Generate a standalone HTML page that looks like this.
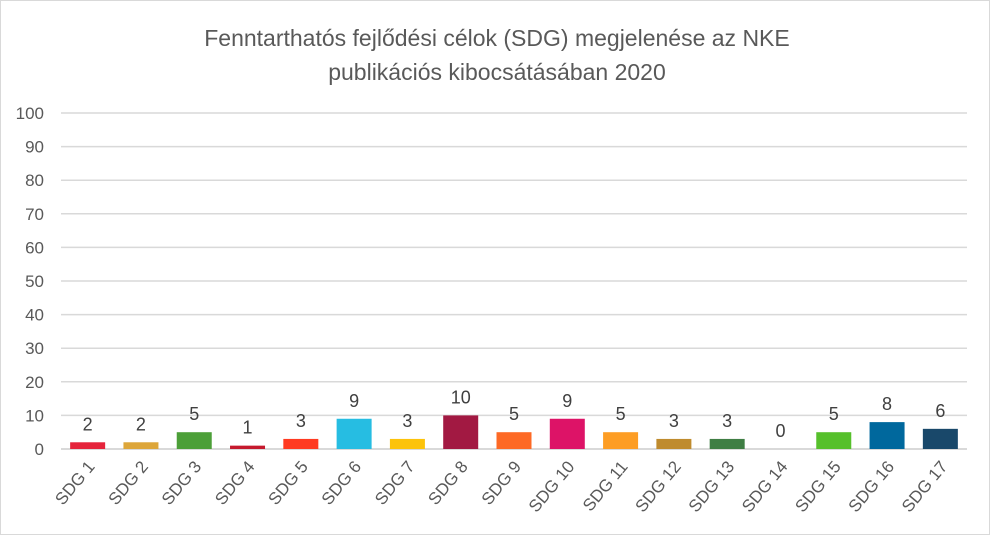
<!DOCTYPE html>
<html><head><meta charset="utf-8"><style>
body{margin:0;background:#fff}
svg{display:block;font-family:"Liberation Sans",Calibri,sans-serif}
</style></head><body>
<svg width="991" height="536" viewBox="0 0 991 536" xmlns="http://www.w3.org/2000/svg">
<rect x="0.5" y="0.5" width="989" height="534" fill="#fff" stroke="#d9d9d9"/>
<text x="497" y="46" font-size="23" fill="#595959" text-anchor="middle">Fenntarthatós fejlődési célok (SDG) megjelenése az NKE</text>
<text x="497" y="80" font-size="23" fill="#595959" text-anchor="middle">publikációs kibocsátásában 2020</text>
<g id="grid" stroke="#d9d9d9" stroke-width="1.5"></g>
<g id="yl" font-size="17" fill="#595959" text-anchor="end"></g>
<g id="bars"></g>
<g id="vl" font-size="18" fill="#404040" text-anchor="middle"></g>
<g id="xl" font-size="17" fill="#595959" text-anchor="end"></g>
</svg>
<script>
const ns="http://www.w3.org/2000/svg";
function el(p,t,a,txt){const e=document.createElementNS(ns,t);for(const k in a)e.setAttribute(k,a[k]);if(txt!==undefined)e.textContent=txt;document.getElementById(p).appendChild(e);}
const y0=449,k=3.36,L=61,R=967;
for(let v=0;v<=100;v+=10){const y=y0-v*k;el("grid","line",{x1:L,x2:R,y1:y,y2:y,"stroke-width":v==0?2:1.5});el("yl","text",{x:44,y:y+6},v);}
const vals=[2,2,5,1,3,9,3,10,5,9,5,3,3,0,5,8,6];
const cols=["#e5243b","#dda63a","#4c9f38","#c5192d","#ff3a21","#26bde2","#fcc30b","#a21942","#fd6925","#dd1367","#fd9d24","#bf8b2e","#3f7e44","#0a97d9","#56c02b","#00689d","#19486a"];
const step=(R-L)/17;
vals.forEach((v,i)=>{const cx=L+step*(i+0.5);const h=v*k;
if(v>0)el("bars","rect",{x:cx-17.5,y:y0-h,width:35,height:h,fill:cols[i]});
el("vl","text",{x:cx,y:y0-h-12},v);
el("xl","text",{x:cx+8,y:467,transform:`rotate(-50 ${cx+8} 467)`},"SDG "+(i+1));});
</script>
</body></html>
